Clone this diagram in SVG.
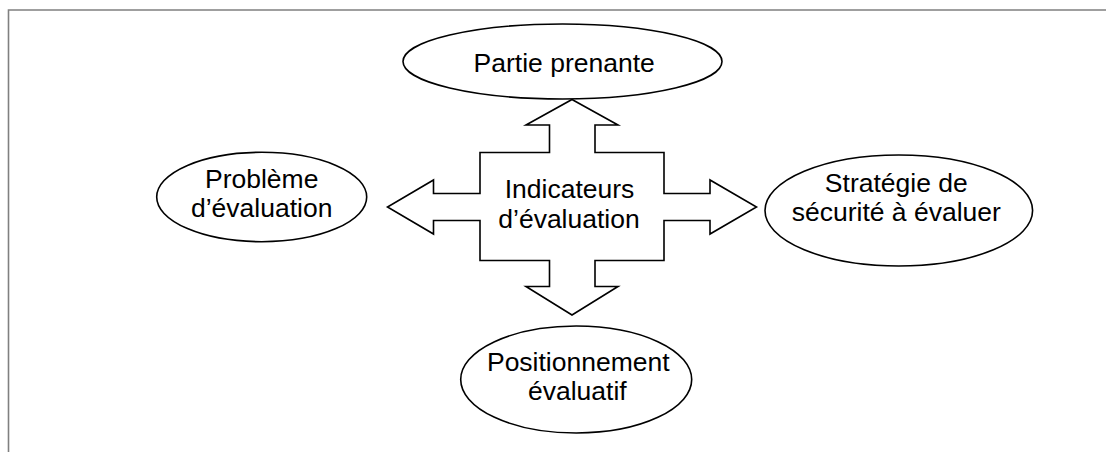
<svg xmlns="http://www.w3.org/2000/svg" width="1106" height="452" viewBox="0 0 1106 452">
<style>
.frame{fill:none;stroke:#808080;stroke-width:1.6}
.shape{fill:#fff;stroke:#000;stroke-width:1.6}
text{font-family:"Liberation Sans",Arial,sans-serif;font-size:26.5px;fill:#000;text-anchor:middle}
</style>
<rect width="1106" height="452" fill="#fff"/>
<path class="frame" d="M8.5,452 V10 H1106"/>
<g id="connectors">
<polygon id="cross" class="shape" points="572,99.5 618,125 595,125 595,152.5 664,152.5 664,193.5 710,193.5 710,180 756.5,207 710,234 710,220.5 664,220.5 664,260.5 595,260.5 595,286.5 618,286.5 572,315 526,286.5 549.5,286.5 549.5,260.5 480,260.5 480,220.5 433.5,220.5 433.5,234 387.5,207 433.5,180 433.5,193.5 480,193.5 480,152.5 549.5,152.5 549.5,125 526,125"/>
</g>
<g id="indicateurs">
<text x="569.5" y="198.3">Indicateurs</text>
<text x="569" y="228.3">d’évaluation</text>
</g>
<g id="partie">
<ellipse class="shape" cx="562.5" cy="61.5" rx="159.5" ry="37.5"/>
<text x="564.2" y="72">Partie prenante</text>
</g>
<g id="probleme">
<ellipse class="shape" cx="261.7" cy="197" rx="105" ry="44.7"/>
<text x="261.7" y="188.3">Problème</text>
<text x="261.7" y="217">d’évaluation</text>
</g>
<g id="strategie">
<ellipse class="shape" cx="898.8" cy="210.5" rx="133.8" ry="55.5"/>
<text x="896.3" y="191.7">Stratégie de</text>
<text x="896.3" y="221">sécurité à évaluer</text>
</g>
<g id="positionnement">
<ellipse class="shape" cx="576.2" cy="379.5" rx="115.5" ry="53.5"/>
<text x="578.3" y="370.7">Positionnement</text>
<text x="577.3" y="400">évaluatif</text>
</g>
</svg>
